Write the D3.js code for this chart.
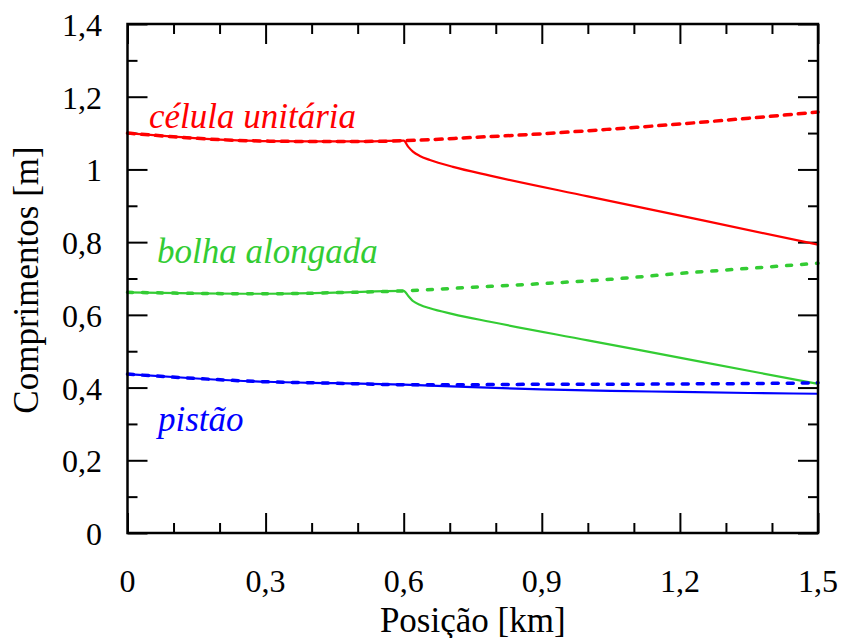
<!DOCTYPE html>
<html>
<head>
<meta charset="utf-8">
<script src="https://cdn.jsdelivr.net/npm/d3@7"></script>
<style>
body { margin: 0; background: #fff; }
text { font-family: "Liberation Serif", "Times New Roman", serif; }
</style>
</head>
<body>
<div id="root"></div>
<script>
var width = 842;
var height = 638;

// tick values
var xMajor = [0, 0.3, 0.6, 0.9, 1.2, 1.5];
var xMinor = [0.1, 0.2, 0.4, 0.5, 0.7, 0.8, 1.0, 1.1, 1.3, 1.4];
var yMajor = [0, 0.2, 0.4, 0.6, 0.8, 1.0, 1.2, 1.4];
var yMinor = [0.1, 0.3, 0.5, 0.7, 0.9, 1.1, 1.3];

// position [km]
var celulaX      = [0, 0.1, 0.2, 0.3, 0.4, 0.5, 0.6, 0.61, 0.62, 0.635, 0.657, 0.707, 0.7875, 1.0, 1.25, 1.5];
var celulaSolid  = [1.100, 1.090, 1.082, 1.078, 1.077, 1.077, 1.079, 1.062, 1.049, 1.037, 1.026, 1.007, 0.983, 0.926, 0.860, 0.793];
var celulaDashX  = [0, 0.1, 0.2, 0.3, 0.4, 0.5, 0.6, 0.75, 0.9, 1.05, 1.2, 1.35, 1.5];
var celulaDash   = [1.100, 1.090, 1.082, 1.078, 1.077, 1.077, 1.079, 1.088, 1.098, 1.111, 1.125, 1.141, 1.158];

var bolhaX       = [0, 0.15, 0.3, 0.45, 0.6, 0.61, 0.62, 0.635, 0.657, 0.707, 0.7875, 1.0, 1.25, 1.5];
var bolhaSolid   = [0.662, 0.659, 0.658, 0.661, 0.666, 0.652, 0.638, 0.628, 0.618, 0.602, 0.581, 0.530, 0.470, 0.410];
var bolhaDashX   = [0, 0.15, 0.3, 0.45, 0.6, 0.75, 0.9, 1.05, 1.2, 1.35, 1.5];
var bolhaDash    = [0.662, 0.659, 0.658, 0.661, 0.666, 0.676, 0.686, 0.698, 0.714, 0.728, 0.742];

var pistaoX      = [0, 0.15, 0.3, 0.45, 0.6, 0.75, 0.9, 1.05, 1.2, 1.35, 1.5];
var pistaoSolid  = [0.437, 0.425, 0.416, 0.412, 0.408, 0.401, 0.395, 0.391, 0.388, 0.385, 0.383];
var pistaoDash   = [0.437, 0.425, 0.416, 0.412, 0.408, 0.408, 0.409, 0.409, 0.410, 0.411, 0.413];

var svg = d3.select("#root")
  .append("svg")
  .attr("width", width)
  .attr("height", height);

// plot box (note: "top" is reserved by window, so use other names)
var boxL = 127.5, boxR = 818, boxT = 24, boxB = 533;

var x = d3.scaleLinear().domain([0, 1.5]).range([boxL, boxR]);
var y = d3.scaleLinear().domain([0, 1.4]).range([boxB, boxT]);

function comma(d) { return String(+d.toFixed(2)).replace(".", ","); }

// ticks on all four sides, pointing inward
function ticks(axisFn, scale, values, size, tx, ty) {
  svg.append("g")
    .attr("transform", "translate(" + tx + "," + ty + ")")
    .call(axisFn(scale).tickValues(values).tickSize(size).tickSizeOuter(0).tickFormat(""))
    .call(function(g) {
      g.select(".domain").remove();
      g.selectAll("line").attr("stroke", "#000").attr("stroke-width", 2);
    });
}
ticks(d3.axisBottom, x, xMajor, -20, 0, boxB);
ticks(d3.axisBottom, x, xMinor, -10, 0, boxB);
ticks(d3.axisTop, x, xMajor, -20, 0, boxT);
ticks(d3.axisTop, x, xMinor, -10, 0, boxT);
ticks(d3.axisLeft, y, yMajor, -20, boxL, 0);
ticks(d3.axisLeft, y, yMinor, -10, boxL, 0);
ticks(d3.axisRight, y, yMajor, -20, boxR, 0);
ticks(d3.axisRight, y, yMinor, -10, boxR, 0);

// tick labels
svg.append("g").selectAll("text")
  .data(xMajor).enter().append("text")
  .attr("x", function(d) { return x(d); })
  .attr("y", 592)
  .attr("text-anchor", "middle")
  .attr("font-size", "32px")
  .text(comma);

svg.append("g").selectAll("text")
  .data(yMajor).enter().append("text")
  .attr("x", 102)
  .attr("y", function(d) { return y(d) + 12; })
  .attr("text-anchor", "end")
  .attr("font-size", "32px")
  .text(comma);

// axis titles
svg.append("text")
  .attr("x", (boxL + boxR) / 2)
  .attr("y", 632)
  .attr("text-anchor", "middle")
  .attr("font-size", "35px")
  .text("Posição [km]");

svg.append("text")
  .attr("transform", "translate(38,280) rotate(-90)")
  .attr("text-anchor", "middle")
  .attr("font-size", "35px")
  .text("Comprimentos [m]");

// lines
var line = d3.line()
  .x(function(d) { return x(d[0]); })
  .y(function(d) { return y(d[1]); })
  .curve(d3.curveMonotoneX);

function pairs(xs, ys) { return xs.map(function(v, i) { return [v, ys[i]]; }); }

var series = [
  { pts: pairs(celulaX, celulaSolid), color: "#ff0000", w: 2.2, dash: null },
  { pts: pairs(celulaDashX, celulaDash), color: "#ff0000", w: 3.5, dash: "7,7" },
  { pts: pairs(bolhaX, bolhaSolid), color: "#33cc33", w: 2.2, dash: null },
  { pts: pairs(bolhaDashX, bolhaDash), color: "#33cc33", w: 3.5, dash: "5,10" },
  { pts: pairs(pistaoX, pistaoSolid), color: "#0000ff", w: 2.2, dash: null },
  { pts: pairs(pistaoX, pistaoDash), color: "#0000ff", w: 3.5, dash: "6,9" }
];

svg.append("g").selectAll("path")
  .data(series).enter().append("path")
  .attr("fill", "none")
  .attr("stroke", function(d) { return d.color; })
  .attr("stroke-width", function(d) { return d.w; })
  .attr("stroke-linecap", "round")
  .attr("stroke-dasharray", function(d) { return d.dash; })
  .attr("d", function(d) { return line(d.pts); });

// frame
svg.append("rect")
  .attr("x", boxL).attr("y", boxT)
  .attr("width", boxR - boxL).attr("height", boxB - boxT)
  .attr("fill", "none")
  .attr("stroke", "#000")
  .attr("stroke-width", 2.5);

// series labels
var labels = [
  { text: "célula unitária", x: 149, y: 128, color: "#ff0000" },
  { text: "bolha alongada", x: 157, y: 263, color: "#33cc33" },
  { text: "pistão", x: 158, y: 431, color: "#0000ff" }
];
svg.append("g").selectAll("text")
  .data(labels).enter().append("text")
  .attr("x", function(d) { return d.x; })
  .attr("y", function(d) { return d.y; })
  .attr("fill", function(d) { return d.color; })
  .attr("font-size", "35px")
  .attr("font-style", "italic")
  .text(function(d) { return d.text; });
</script>
</body>
</html>
